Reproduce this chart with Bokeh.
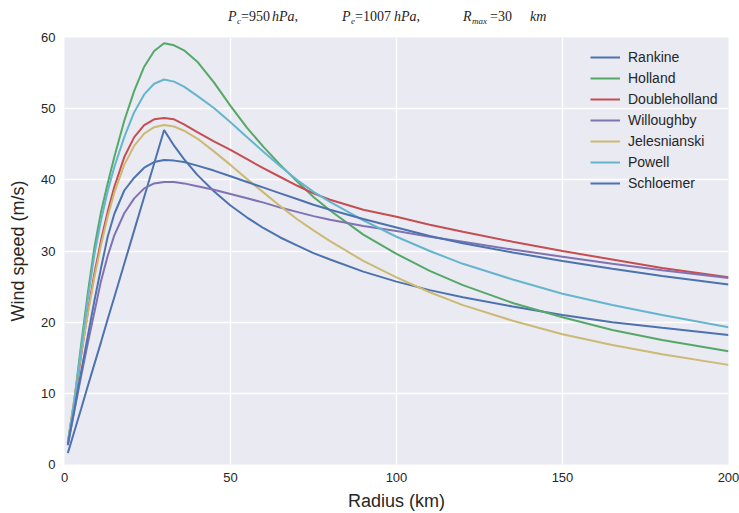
from bokeh.plotting import figure
from bokeh.models import FixedTicker, Div
from bokeh.layouts import column
from bokeh.embed import file_html
from bokeh.resources import INLINE

# ---- data ----
radius = [1, 3, 5, 7, 9, 11, 13, 15, 18, 21, 24, 27, 30, 33, 36, 40, 45, 50, 55, 60,
          65, 70, 75, 80, 90, 100, 110, 120, 135, 150, 165, 180, 200]

rankine = [1.6, 4.7, 7.8, 11.0, 14.1, 17.2, 20.4, 23.5, 28.2, 32.9, 37.6, 42.3, 47.0, 44.8,
           42.9, 40.7, 38.4, 36.4, 34.7, 33.2, 31.9, 30.8, 29.7, 28.8, 27.1, 25.7, 24.5,
           23.5, 22.2, 21.0, 20.0, 19.2, 18.2]
holland = [3.0, 9.2, 16.8, 24.0, 30.5, 35.5, 39.5, 43.2, 48.3, 52.5, 55.9, 58.1, 59.2, 58.9,
           58.2, 56.6, 53.7, 50.4, 47.3, 44.6, 42.1, 39.8, 37.6, 35.7, 32.3, 29.6, 27.2,
           25.2, 22.7, 20.7, 18.9, 17.5, 15.9]
doubleholland = [3.0, 8.8, 15.3, 21.4, 26.8, 31.5, 35.5, 39.0, 43.2, 46.0, 47.7, 48.5, 48.7,
                 48.5, 47.8, 46.7, 45.4, 44.2, 42.9, 41.6, 40.4, 39.2, 38.1, 37.2, 35.8,
                 34.8, 33.7, 32.7, 31.3, 30.0, 28.8, 27.6, 26.3]
willoughby = [2.7, 7.6, 12.4, 17.0, 21.4, 25.8, 29.3, 32.2, 35.3, 37.4, 38.8, 39.5, 39.7,
              39.7, 39.5, 39.1, 38.6, 38.0, 37.4, 36.8, 36.1, 35.5, 34.9, 34.4, 33.5, 32.8,
              32.0, 31.3, 30.2, 29.2, 28.2, 27.3, 26.2]
jelesnianski = [3.2, 9.4, 15.5, 21.1, 26.3, 30.8, 34.8, 38.2, 42.1, 44.8, 46.5, 47.4, 47.7,
                47.5, 46.9, 45.8, 44.0, 42.1, 40.1, 38.2, 36.3, 34.5, 32.9, 31.4, 28.6,
                26.3, 24.2, 22.4, 20.2, 18.3, 16.8, 15.5, 14.0]
powell = [3.0, 9.0, 16.2, 23.2, 29.5, 34.3, 38.4, 41.8, 46.0, 49.5, 52.0, 53.5, 54.1, 53.8,
          53.1, 51.8, 50.1, 48.1, 46.0, 43.9, 41.9, 40.0, 38.3, 36.9, 34.3, 32.0, 30.0,
          28.2, 26.0, 24.0, 22.4, 21.0, 19.3]
schloemer = [2.8, 7.8, 13.0, 18.0, 23.0, 27.6, 32.0, 35.2, 38.5, 40.3, 41.7, 42.5, 42.8,
             42.7, 42.5, 42.0, 41.3, 40.5, 39.7, 38.9, 38.1, 37.3, 36.5, 35.8, 34.5, 33.3,
             32.1, 31.1, 29.8, 28.6, 27.5, 26.5, 25.3]

series_names = ["Rankine", "Holland", "Doubleholland", "Willoughby", "Jelesnianski",
                "Powell", "Schloemer"]
series_values = [rankine, holland, doubleholland, willoughby, jelesnianski, powell, schloemer]
series_colors = ["#4C72B0", "#55A868", "#C44E52", "#8172B2", "#CCB974", "#64B5CD", "#4C72B0"]

x_ticks = [0, 50, 100, 150, 200]
y_ticks = [0, 10, 20, 30, 40, 50, 60]

TEXT = "#262626"

p = figure(width=739, height=483, x_range=(0, 200), y_range=(0, 60),
           output_backend="svg", toolbar_location=None,
           min_border_left=64, min_border_right=11, min_border_top=7, min_border_bottom=47)
p.background_fill_color = "#EAEAF2"
p.border_fill_color = "white"
p.outline_line_color = None

for name, vals, col in zip(series_names, series_values, series_colors):
    p.line(radius, vals, line_color=col, line_width=2, legend_label=name)

# grid
p.xgrid.ticker = FixedTicker(ticks=x_ticks)
p.ygrid.ticker = FixedTicker(ticks=y_ticks)
for g in (p.xgrid, p.ygrid):
    g.grid_line_color = "white"
    g.grid_line_width = 1.3

# axes
p.xaxis.ticker = FixedTicker(ticks=x_ticks)
p.yaxis.ticker = FixedTicker(ticks=y_ticks)
for ax in (p.xaxis, p.yaxis):
    ax.axis_line_color = None
    ax.major_tick_line_color = None
    ax.minor_tick_line_color = None
    ax.major_tick_out = 0
    ax.major_tick_in = 0
    ax.major_label_text_font = "Liberation Sans"
    ax.major_label_text_font_size = "13px"
    ax.major_label_text_color = TEXT
    ax.axis_label_text_font = "Liberation Sans"
    ax.axis_label_text_font_size = "18px"
    ax.axis_label_text_font_style = "normal"
    ax.axis_label_text_color = TEXT
p.xaxis.axis_label = "Radius (km)"
p.yaxis.axis_label = "Wind speed (m/s)"
p.xaxis.major_label_standoff = 8
p.xaxis.axis_label_standoff = 6
p.yaxis.major_label_standoff = 9
p.yaxis.axis_label_standoff = 10

# legend
lg = p.legend[0]
lg.location = (520, 265)
lg.background_fill_alpha = 0
lg.border_line_alpha = 0
lg.label_text_font = "Liberation Sans"
lg.label_text_font_size = "14px"
lg.label_text_color = TEXT
lg.label_text_baseline = "middle"
lg.glyph_width = 30
lg.glyph_height = 20
lg.label_height = 20
lg.label_standoff = 8
lg.spacing = 1
lg.padding = 6
lg.margin = 0

# title made of pieces (math-style with subscripts), as real HTML text
pieces = [
    ("P", 228, "italic", 14, 10),
    ("c", 237, "italic", 9, 17),
    ("=950", 241, "normal", 14, 10),
    ("hPa,", 272, "italic", 14, 10),
    ("P", 342, "italic", 14, 10),
    ("e", 351, "italic", 9, 17),
    ("=1007", 355, "normal", 14, 10),
    ("hPa,", 394, "italic", 14, 10),
    ("R", 463, "italic", 14, 10),
    ("max", 472, "italic", 9, 17),
    ("=30", 490, "normal", 14, 10),
    ("km", 530, "italic", 14, 10),
]
spans = "".join(
    f'<span style="position:absolute;left:{x}px;top:{t}px;font-size:{s}px;'
    f'line-height:{s}px;font-style:{st};white-space:nowrap;">{txt}</span>'
    for txt, x, st, s, t in pieces)
title_html = (f'<div style="position:relative;width:739px;height:30px;'
              f'font-family:\'Liberation Serif\',serif;color:{TEXT};">{spans}</div>')
title = Div(text=title_html, width=739, height=30, margin=0)

layout = column(title, p, spacing=0)

open("out.html", "w").write(file_html(layout, INLINE))
